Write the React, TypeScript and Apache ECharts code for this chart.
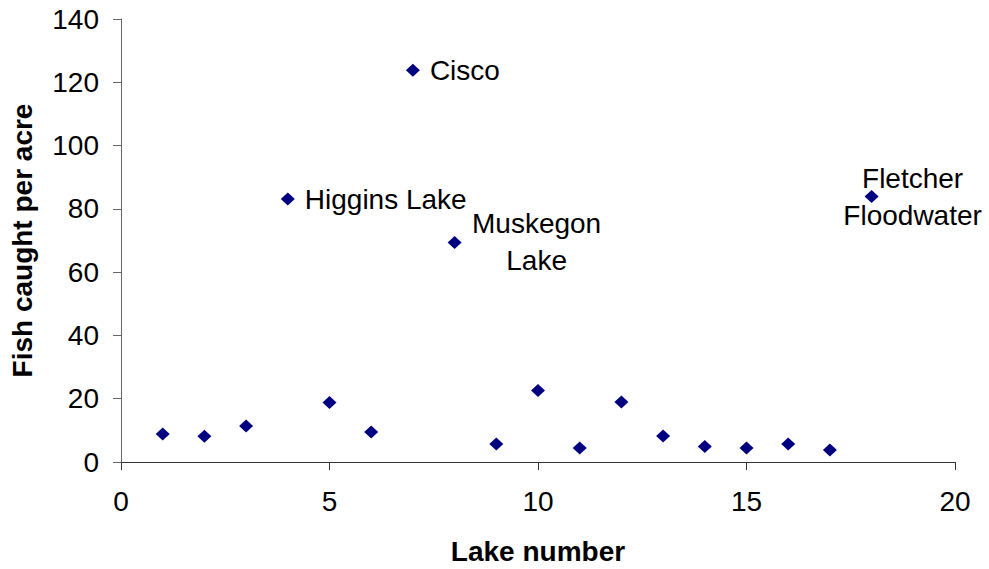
import React, { useEffect, useRef } from "react";
import * as echarts from "echarts";

const lakeNumbers = [1, 2, 3, 4, 5, 6, 7, 8, 9, 10, 11, 12, 13, 14, 15, 16, 17, 18];
const fishPerAcre = [8.85, 8.1, 11.4, 83.1, 18.8, 9.5, 123.8, 69.4, 5.7, 22.6, 4.4, 19.0, 8.2, 4.9, 4.4, 5.7, 3.8, 83.9];
const pointLabels: Record<number, string> = {
  4: "Higgins Lake",
  7: "Cisco",
  8: "Muskegon\nLake",
  18: "Fletcher\nFloodwater",
};
const xTicks = { min: 0, max: 20, interval: 5 };
const yTicks = { min: 0, max: 140, interval: 20 };

const FONT = "Liberation Sans, Arial, sans-serif";
const FS = 28;

export default function App() {
  const ref = useRef<HTMLDivElement>(null);
  useEffect(() => {
    document.body.style.margin = "0";
    if (!ref.current) return;
    const chart = echarts.init(ref.current, null, { renderer: "svg" });

    const labelStyle = (n: number) => {
      const base = {
        show: true,
        position: "inside" as const,
        color: "#000",
        fontFamily: FONT,
        fontSize: FS,
        lineHeight: 37,
        textBorderWidth: 0,
        verticalAlign: "middle" as const,
      };
      if (n === 8) return { ...base, align: "center" as const, offset: [82, 0] };
      if (n === 18) return { ...base, align: "center" as const, offset: [41, 0] };
      return { ...base, align: "left" as const, offset: [17, 0] };
    };

    const data = lakeNumbers.map((n, i) => {
      const item: any = { value: [n, fishPerAcre[i]] };
      if (pointLabels[n]) {
        item.name = pointLabels[n];
        item.label = { ...labelStyle(n), formatter: pointLabels[n] };
      }
      return item;
    });

    chart.setOption({
      animation: false,
      backgroundColor: "#fff",
      textStyle: { fontFamily: FONT },
      grid: { left: 121, right: 34, top: 19, bottom: 107, outerBoundsMode: "none", containLabel: false },
      xAxis: {
        type: "value",
        min: xTicks.min,
        max: xTicks.max,
        interval: xTicks.interval,
        name: "Lake number",
        nameLocation: "middle",
        nameGap: 75,
        nameTextStyle: { fontFamily: FONT, fontSize: FS, fontWeight: "bold", color: "#000" },
        axisLine: { show: true, onZero: false, lineStyle: { color: "#333", width: 1 } },
        axisTick: { show: true, length: 8, inside: false, lineStyle: { color: "#333" } },
        axisLabel: { fontFamily: FONT, fontSize: FS, color: "#000", margin: 25 },
        splitLine: { show: false },
      },
      yAxis: {
        type: "value",
        min: yTicks.min,
        max: yTicks.max,
        interval: yTicks.interval,
        name: "Fish caught per acre",
        nameLocation: "middle",
        nameGap: 85,
        nameRotate: 90,
        nameTextStyle: { fontFamily: FONT, fontSize: FS, fontWeight: "bold", color: "#000" },
        axisLine: { show: true, lineStyle: { color: "#666", width: 1 } },
        axisTick: { show: true, length: 8, inside: false, lineStyle: { color: "#666" } },
        axisLabel: { fontFamily: FONT, fontSize: FS, color: "#000", margin: 22 },
        splitLine: { show: false },
      },
      series: [
        {
          type: "scatter",
          symbol: "diamond",
          symbolSize: [14, 13],
          itemStyle: { color: "#000080", opacity: 1 },
          data,
          label: { show: false },
        },
      ],
    });
    return () => chart.dispose();
  }, []);
  return <div ref={ref} style={{ width: 989, height: 569 }} />;
}
